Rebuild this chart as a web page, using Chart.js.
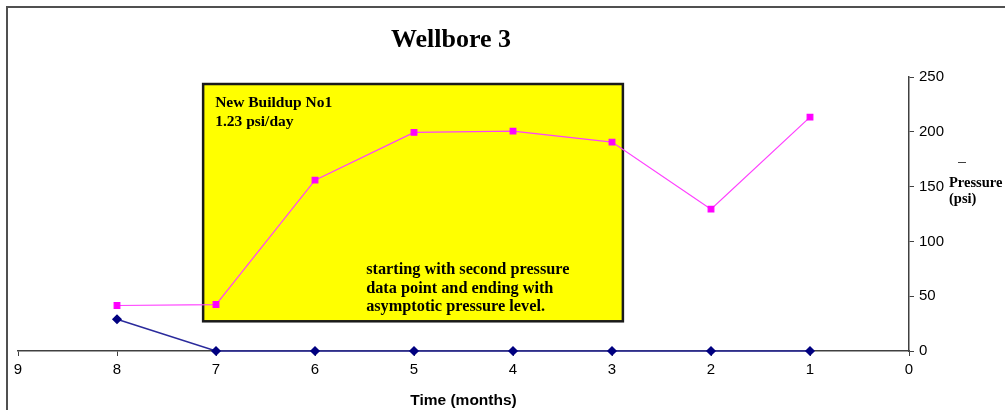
<!DOCTYPE html>
<html>
<head>
<meta charset="utf-8">
<script src="https://cdn.jsdelivr.net/npm/chart.js@4.4.1/dist/chart.umd.min.js"></script>
<style>
  html, body { margin: 0; padding: 0; background: #fff; overflow: hidden; }
  #wrap { position: relative; width: 1005px; height: 410px; }
  #frame {
    position: absolute; left: 6px; top: 6px; width: 1100px; height: 500px;
    border-left: 2px solid #505050; border-top: 2px solid #505050;
    pointer-events: none;
  }
  canvas { position: absolute; left: 0; top: 0; }
</style>
</head>
<body>
<div id="wrap">
  <canvas id="chart" width="1005" height="410"></canvas>
  <div id="frame"></div>
</div>
<script>
// Meses antes del final del registro (eje invertido, 9 -> 0)
const months = [8, 7, 6, 5, 4, 3, 2, 1];
// Presión medida (psi)
const pressure = [41.5, 42.4, 155.9, 199.5, 200.6, 190.6, 129.4, 213.4];
// Segunda serie: cae a cero tras el primer mes
const baseSeries = [29, 0, 0, 0, 0, 0, 0, 0];
const yTicks = [0, 50, 100, 150, 200, 250];

// Recuadro amarillo de la anotación, en unidades de los ejes
const noteBox = { xFrom: 7.13, xTo: 2.89, yFrom: 243.6, yTo: 27.1 };
const noteTop = ['New Buildup No1', '1.23 psi/day'];
const noteBottom = ['starting with second pressure', 'data point and ending with', 'asymptotic pressure level.'];

const serif = '"Liberation Serif", "Times New Roman", serif';
const sans = '"Liberation Sans", Arial, sans-serif';

// Recuadro amarillo dibujado debajo de las líneas
const notePlugin = {
    id: 'noteBox',
    beforeDatasetsDraw(chart) {
        const { ctx, scales: { x, y } } = chart;
        const left = x.getPixelForValue(noteBox.xFrom);
        const right = x.getPixelForValue(noteBox.xTo);
        const top = y.getPixelForValue(noteBox.yFrom);
        const bottom = y.getPixelForValue(noteBox.yTo);
        ctx.save();
        ctx.fillStyle = '#ffff00';
        ctx.fillRect(left, top, right - left, bottom - top);
        ctx.strokeStyle = '#1a1a1a';
        ctx.lineWidth = 2.5;
        ctx.strokeRect(left, top, right - left, bottom - top);
        ctx.fillStyle = '#000';
        ctx.textBaseline = 'alphabetic';
        ctx.font = 'bold 15.5px ' + serif;
        noteTop.forEach((t, i) => ctx.fillText(t, left + 12, top + 23 + i * 19));
        ctx.font = 'bold 16.3px ' + serif;
        noteBottom.forEach((t, i) => ctx.fillText(t, left + 163, top + 190 + i * 18.5));
        ctx.restore();
    }
};

// Título y leyenda
const textPlugin = {
    id: 'extraText',
    afterDraw(chart) {
        const { ctx } = chart;
        ctx.save();
        ctx.fillStyle = '#000';
        ctx.font = 'bold 26px ' + serif;
        ctx.textAlign = 'center';
        ctx.textBaseline = 'alphabetic';
        ctx.fillText('Wellbore 3', 451, 47);

        // caja de la leyenda, tapa parte de las etiquetas del eje
        ctx.fillStyle = '#fff';
        ctx.fillRect(948, 155, 60, 95);
        ctx.strokeStyle = '#404040';
        ctx.lineWidth = 1;
        ctx.beginPath();
        ctx.moveTo(958, 162.5);
        ctx.lineTo(966, 162.5);
        ctx.stroke();
        ctx.fillStyle = '#000';
        ctx.textAlign = 'left';
        ctx.font = 'bold 14.5px ' + serif;
        ctx.fillText('Pressure', 949, 187);
        ctx.fillText('(psi)', 949, 203);
        ctx.restore();
    }
};

const ctx = document.getElementById('chart').getContext('2d');
new Chart(ctx, {
    type: 'line',
    data: {
        datasets: [{
            label: 'Pressure (psi)',
            data: months.map((m, i) => ({ x: m, y: pressure[i] })),
            borderColor: '#ff40ff',
            borderWidth: 1.2,
            pointStyle: 'rect',
            pointRadius: 4,
            pointBackgroundColor: '#ff00ff',
            pointBorderColor: '#ff00ff',
            tension: 0
        }, {
            label: 'Base',
            data: months.map((m, i) => ({ x: m, y: baseSeries[i] })),
            borderColor: '#2a2a9c',
            borderWidth: 1.5,
            pointStyle: 'rectRot',
            pointRadius: 4,
            pointBackgroundColor: '#000080',
            pointBorderColor: '#000080',
            tension: 0
        }]
    },
    options: {
        responsive: false,
        animation: false,
        clip: false,
        layout: { padding: { left: 18, top: 77, right: 0, bottom: 0 } },
        plugins: {
            legend: { display: false },
            title: { display: false },
            tooltip: { enabled: false }
        },
        scales: {
            x: {
                type: 'linear',
                reverse: true,
                min: 0,
                max: 9,
                afterFit: (s) => { s.height = 59; },
                border: { color: '#404040', width: 1.5 },
                grid: { drawOnChartArea: false, tickLength: 5, color: '#404040' },
                ticks: {
                    stepSize: 1,
                    padding: 5,
                    color: '#000',
                    font: { family: sans, size: 15 }
                },
                title: {
                    display: true,
                    text: 'Time (months)',
                    color: '#000',
                    font: { family: sans, size: 15.5, weight: 'bold' },
                    padding: { top: 2, bottom: 0 }
                }
            },
            y: {
                position: 'right',
                min: 0,
                max: 250,
                afterFit: (s) => { s.width = 96; },
                afterBuildTicks: (s) => { s.ticks = yTicks.map(v => ({ value: v })); },
                border: { color: '#404040', width: 1.5 },
                grid: { drawOnChartArea: false, tickLength: 5, color: '#404040' },
                ticks: {
                    padding: 5,
                    color: '#000',
                    font: { family: sans, size: 15 }
                }
            }
        }
    },
    plugins: [notePlugin, textPlugin]
});
</script>
</body>
</html>
